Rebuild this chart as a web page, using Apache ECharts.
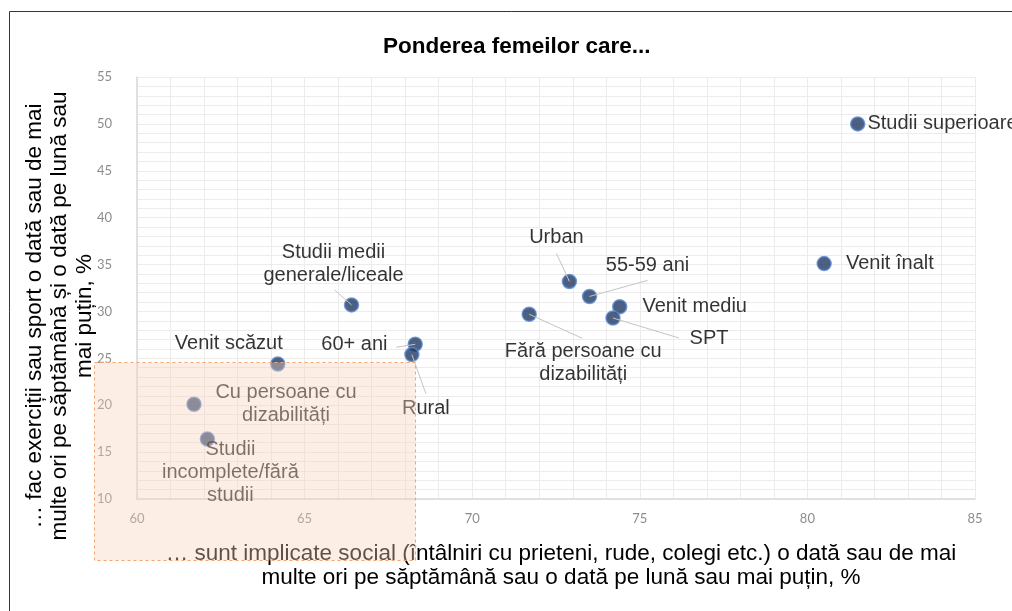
<!DOCTYPE html>
<html>
<head>
<meta charset="utf-8">
<title>Ponderea femeilor care...</title>
<script src="https://cdn.jsdelivr.net/npm/echarts@6/dist/echarts.min.js"></script>
<style>
    html, body { margin: 0; padding: 0; background: #fff; }
    #chart { width: 1012px; height: 611px; }
</style>
</head>
<body>
<div id="chart"></div>
<script>
    // groups of women and the two shares (%)
    const groups = [
        'Studii superioare', 'Venit înalt', 'Urban', '55-59 ani', 'Venit mediu', 'SPT',
        'Fără persoane cu\ndizabilități', 'Studii medii\ngenerale/liceale', '60+ ani', 'Rural',
        'Venit scăzut', 'Cu persoane cu\ndizabilități', 'Studii\nincomplete/fără\nstudii'
    ];
    const socialPct = [81.5, 80.5, 72.9, 73.5, 74.4, 74.2, 71.7, 66.4, 68.3, 68.2, 64.2, 61.7, 62.1];
    const sportPct  = [50.0, 35.1, 33.2, 31.6, 30.5, 29.3, 29.7, 30.7, 26.5, 25.4, 24.4, 20.1, 16.4];

    // where each label sits relative to its point (px), and where its leader line ends (px)
    const labelPlace = [
        { pos: 'right', dist: 2 },
        { pos: 'right', dist: 14 },
        { pos: 'inside', off: [-13, -44], line: [-13, -28] },
        { pos: 'inside', off: [58, -31], line: [58, -16] },
        { pos: 'right', dist: 15 },
        { pos: 'inside', off: [96, 20], line: [66, 20] },
        { pos: 'inside', off: [54, 49], line: [53, 24] },
        { pos: 'inside', off: [-18, -41], line: [-17, -15] },
        { pos: 'left', dist: 20, line: [-19, 3] },
        { pos: 'inside', off: [14, 54], line: [14, 39] },
        { pos: 'inside', off: [-49, -20] },
        { pos: 'inside', off: [92, 0] },
        { pos: 'inside', off: [23, 34] }
    ];

    const xRange = [60, 85];
    const yRange = [10, 55];
    const tickStep = 5;

    const font = '"Liberation Sans", Arial, sans-serif';

    let points = groups.map(function (name, i) {
        let p = labelPlace[i];
        return {
            name: name,
            value: [socialPct[i], sportPct[i]],
            label: {
                position: p.pos,
                distance: p.dist || 0,
                offset: p.off || [0, 0]
            }
        };
    });

    // leader lines only for the labels that have one
    let leaders = [];
    groups.forEach(function (name, i) {
        if (labelPlace[i].line) leaders.push([socialPct[i], sportPct[i], i]);
    });

    let chart = echarts.init(document.getElementById('chart'));

    chart.setOption({
        animation: false,
        title: {
            text: 'Ponderea femeilor care...',
            left: 383,
            top: 35,
            padding: 0,
            textStyle: { fontFamily: font, fontSize: 22.5, fontWeight: 'bold', color: '#000' }
        },
        grid: { left: 137, right: 37, top: 77, bottom: 112 },
        xAxis: {
            type: 'value',
            min: xRange[0],
            max: xRange[1],
            interval: tickStep,
            name: '… sunt implicate social (întâlniri cu prieteni, rude, colegi etc.) o dată sau de mai\nmulte ori pe săptămână sau o dată pe lună sau mai puțin, %',
            nameLocation: 'middle',
            nameGap: 43,
            nameMoveOverlap: false,
            nameTextStyle: { fontFamily: font, fontSize: 22.5, lineHeight: 24, color: '#000', padding: [0, 0, 0, 10] },
            axisLine: { lineStyle: { color: '#d9d9d9', width: 1.5 } },
            axisTick: { show: false },
            axisLabel: { margin: 13, color: '#8c8c8c', fontFamily: 'Lato', fontSize: 13 },
            splitLine: { lineStyle: { color: '#ececec' } },
            minorTick: { show: false, splitNumber: 5 },
            minorSplitLine: { show: true, lineStyle: { color: '#ececec' } }
        },
        yAxis: {
            type: 'value',
            min: yRange[0],
            max: yRange[1],
            interval: tickStep,
            name: '… fac exerciții sau sport o dată sau de mai\nmulte ori pe săptămână și o dată pe lună sau\nmai puțin, %',
            nameLocation: 'middle',
            nameGap: 40,
            nameMoveOverlap: false,
            nameTextStyle: { fontFamily: font, fontSize: 22.5, lineHeight: 25, color: '#000', padding: [0, 56, 0, 0] },
            axisLine: { show: true, lineStyle: { color: '#d9d9d9', width: 1.5 } },
            axisTick: { show: false },
            axisLabel: { margin: 25, color: '#8c8c8c', fontFamily: 'Lato', fontSize: 13 },
            splitLine: { lineStyle: { color: '#ececec' } },
            minorTick: { show: false, splitNumber: 5 },
            minorSplitLine: { show: true, lineStyle: { color: '#ececec' } }
        },
        series: [
            {
                type: 'scatter',
                symbol: 'circle',
                symbolSize: 14,
                z: 2,
                itemStyle: { color: '#1f3864', borderColor: '#5b8bd0', borderWidth: 1.5 },
                label: {
                    show: true,
                    formatter: '{b}',
                    fontFamily: font,
                    fontSize: 20,
                    lineHeight: 23,
                    color: '#000'
                },
                emphasis: { disabled: true },
                data: points
            },
            {
                // label leader lines, from the point centre towards its label
                type: 'custom',
                z: 3,
                silent: true,
                data: leaders,
                renderItem: function (params, api) {
                    let p = api.coord([api.value(0), api.value(1)]);
                    let d = labelPlace[api.value(2)].line;
                    return {
                        type: 'line',
                        shape: { x1: p[0], y1: p[1], x2: p[0] + d[0], y2: p[1] + d[1] },
                        style: { stroke: '#c4c4c4', lineWidth: 1 }
                    };
                }
            }
        ],
        graphic: [
            {
                type: 'rect',
                z: 100,
                silent: true,
                shape: { x: 9.5, y: 11.5, width: 1100, height: 700 },
                style: { fill: 'none', stroke: '#1f3864', lineWidth: 1 }
            },
            {
                type: 'rect',
                z: 100,
                silent: true,
                shape: { x: 94.5, y: 362.5, width: 321, height: 198 },
                style: {
                    fill: 'rgba(248, 210, 185, 0.38)',
                    stroke: '#f4a66e',
                    lineWidth: 1,
                    lineDash: [3, 3]
                }
            }
        ]
    });
</script>
</body>
</html>
